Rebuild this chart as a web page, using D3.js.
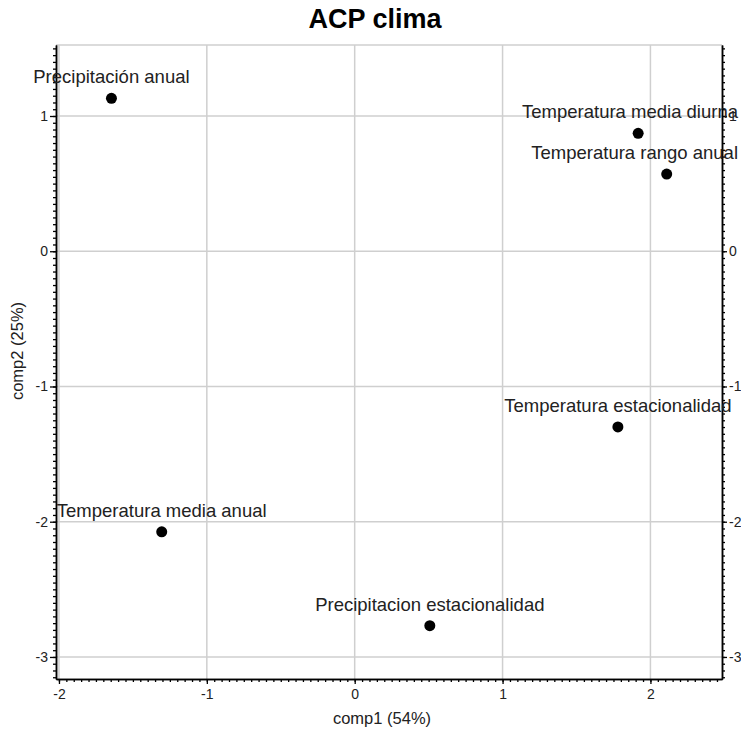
<!DOCTYPE html>
<html>
<head>
<meta charset="utf-8">
<script src="https://cdn.jsdelivr.net/npm/d3@7"></script>
<style>
  body { margin: 0; background: #fff; }
  svg text { font-family: "Liberation Sans", Arial, sans-serif; }
</style>
</head>
<body>
<svg id="chart" width="741" height="733"></svg>
<script>
const names = ['Precipitación anual', 'Temperatura media diurna', 'Temperatura rango anual',
  'Temperatura estacionalidad', 'Temperatura media anual', 'Precipitacion estacionalidad'];
const comp1 = [-1.645, 1.917, 2.110, 1.780, -1.305, 0.508];
const comp2 = [1.131, 0.872, 0.571, -1.299, -2.075, -2.769];
const xTicks = [-2, -1, 0, 1, 2];
const yTicks = [-3, -2, -1, 0, 1];

const svg = d3.select('#chart');
const mLeft = 56, mRight = 722, mTop = 45, mBottom = 679;

const x = d3.scaleLinear().domain([-2.02, 2.484]).range([mLeft, mRight]);
const y = d3.scaleLinear().domain([-3.163, 1.525]).range([mBottom, mTop]);

const xMinor = d3.range(-40, 50).map(i => i / 20).filter(v => v >= -2.02 && v <= 2.484);
const yMinor = d3.range(-63, 31).map(i => i / 20).filter(v => v >= -3.163 && v <= 1.525);

// grid
svg.append('g').selectAll('line')
  .data(xTicks)
  .join('line')
  .attr('x1', d => x(d)).attr('x2', d => x(d))
  .attr('y1', mTop).attr('y2', mBottom)
  .attr('stroke', '#cfcfcf').attr('stroke-width', 1.5);
svg.append('g').selectAll('line')
  .data(yTicks)
  .join('line')
  .attr('x1', mLeft).attr('x2', mRight)
  .attr('y1', d => y(d)).attr('y2', d => y(d))
  .attr('stroke', '#cfcfcf').attr('stroke-width', 1.5);

// frame top
svg.append('line')
  .attr('x1', mLeft).attr('x2', mRight).attr('y1', mTop).attr('y2', mTop)
  .attr('stroke', '#cfcfcf').attr('stroke-width', 1.5);

function styleAxis(g) {
  g.selectAll('path').attr('stroke', '#000').attr('stroke-width', 1.5);
  g.selectAll('line').attr('stroke', '#000').attr('stroke-width', 1.3);
  g.selectAll('text').attr('font-size', 14).attr('fill', '#222')
    .style('font-family', '"Liberation Sans", Arial, sans-serif');
}
const fmt = d => String(d); // plain hyphen like the original

// minor ticks
svg.append('g').attr('transform', `translate(0,${mBottom})`)
  .call(d3.axisBottom(x).tickValues(xMinor).tickSize(3).tickSizeOuter(0).tickFormat(''))
  .call(styleAxis);
svg.append('g').attr('transform', `translate(${mLeft},0)`)
  .call(d3.axisLeft(y).tickValues(yMinor).tickSize(3).tickSizeOuter(0).tickFormat(''))
  .call(styleAxis);
svg.append('g').attr('transform', `translate(${mRight},0)`)
  .call(d3.axisRight(y).tickValues(yMinor).tickSize(3).tickSizeOuter(0).tickFormat(''))
  .call(styleAxis);

// major ticks
svg.append('g').attr('transform', `translate(0,${mBottom})`)
  .call(d3.axisBottom(x).tickValues(xTicks).tickSize(5).tickSizeOuter(0).tickPadding(5).tickFormat(fmt))
  .call(styleAxis);
svg.append('g').attr('transform', `translate(${mLeft},0)`)
  .call(d3.axisLeft(y).tickValues(yTicks).tickSize(6).tickSizeOuter(0).tickPadding(2).tickFormat(fmt))
  .call(styleAxis);
svg.append('g').attr('transform', `translate(${mRight},0)`)
  .call(d3.axisRight(y).tickValues(yTicks).tickSize(5).tickSizeOuter(0).tickPadding(2).tickFormat(fmt))
  .call(styleAxis);

// title + axis titles
svg.append('text')
  .attr('x', 375).attr('y', 28)
  .attr('text-anchor', 'middle')
  .attr('font-size', 27).attr('font-weight', 'bold')
  .text('ACP clima');
svg.append('text')
  .attr('x', 382).attr('y', 724)
  .attr('text-anchor', 'middle')
  .attr('font-size', 16.5).attr('fill', '#222')
  .text('comp1 (54%)');
svg.append('text')
  .attr('transform', 'translate(23,351) rotate(-90)')
  .attr('text-anchor', 'middle')
  .attr('font-size', 16.5).attr('fill', '#222')
  .text('comp2 (25%)');

// points
const pts = names.map((n, i) => ({ name: n, c1: comp1[i], c2: comp2[i] }));
svg.append('g').selectAll('circle')
  .data(pts)
  .join('circle')
  .attr('cx', d => x(d.c1))
  .attr('cy', d => y(d.c2))
  .attr('r', 5.5)
  .attr('fill', '#000');

svg.append('g').selectAll('text')
  .data(pts)
  .join('text')
  .attr('font-size', 18.5).attr('fill', '#222')
  .attr('text-anchor', 'middle')
  .attr('y', d => y(d.c2) - 15)
  .text(d => d.name)
  .attr('x', function(d) {
    const w = this.getComputedTextLength();
    let cx = x(d.c1);
    if (cx + w / 2 > 738) cx = 738 - w / 2;
    return cx;
  });
</script>
</body>
</html>
